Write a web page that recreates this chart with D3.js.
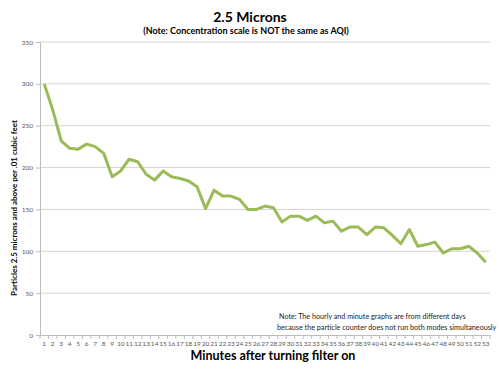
<!DOCTYPE html>
<html>
<head>
<meta charset="utf-8">
<script src="https://cdn.jsdelivr.net/npm/d3@7"></script>
<style>
  body { margin: 0; background: #fff; }
  text { font-family: Lato, "Open Sans", sans-serif; }
</style>
</head>
<body>
<div id="chart"></div>
<script>
// minutes after turning the filter on
let minutes = d3.range(1, 54).map(String);

// particles 2.5 microns and above per .01 cubic feet
let particles = [
    300, 269, 232, 223, 222, 228, 225, 217, 189, 196,
    210, 207, 192, 185, 196, 189, 187, 184, 177, 151,
    173, 166, 166, 162, 150, 150, 154, 152, 135, 142,
    142, 137, 142, 134, 136, 124, 129, 129, 120, 129,
    128, 119, 109, 126, 106, 108, 111, 98, 103, 103,
    106, 98, 87
];

let yTicks = [0, 50, 100, 150, 200, 250, 300, 350];

let noteLines = [
    "Note: The hourly and minute graphs are from different days",
    "because the particle counter does not run both modes simultaneously"
];

let margin = {top: 42, right: 10, bottom: 40, left: 40},
    width = 500 - margin.left - margin.right,
    height = 335 - margin.top;

let svg = d3.select("#chart")
    .append("svg")
        .attr("width", 500)
        .attr("height", 375);

let g = svg.append("g")
    .attr("transform", `translate(${margin.left},${margin.top})`);

let x = d3.scaleBand()
    .domain(minutes)
    .range([0, width]);

let y = d3.scaleLinear()
    .domain([0, 350])
    .range([height, 0]);

// gridlines
g.selectAll(".grid")
    .data(yTicks.filter(d => d > 0))
    .join("line")
    .attr("x1", 0)
    .attr("x2", width)
    .attr("y1", d => y(d))
    .attr("y2", d => y(d))
    .attr("stroke", "#d4d4d4")
    .attr("stroke-width", 1);

// y axis
let yAxis = g.append("g")
    .call(d3.axisLeft(y).tickValues(yTicks).tickSize(4).tickPadding(3));
yAxis.select(".domain").attr("stroke", "#bdbdbd");
yAxis.selectAll(".tick line").attr("stroke", "#bdbdbd");
yAxis.selectAll("text")
    .attr("fill", "#595959")
    .style("font-size", "6.5px");

// x axis
let xAxis = g.append("g")
    .attr("transform", `translate(0,${height})`)
    .call(d3.axisBottom(x).tickSize(0).tickPadding(6));
xAxis.select(".domain").attr("stroke", "#bdbdbd");
xAxis.selectAll("text")
    .attr("fill", "#595959")
    .style("font-size", "6.5px");

// tick marks between categories
g.append("g")
    .selectAll("line")
    .data(minutes.concat([null]))
    .join("line")
    .attr("x1", d => d === null ? width : x(d))
    .attr("x2", d => d === null ? width : x(d))
    .attr("y1", height)
    .attr("y2", height + 4)
    .attr("stroke", "#bdbdbd");

// the line
let line = d3.line()
    .x((d, i) => x(minutes[i]) + x.bandwidth() / 2)
    .y(d => y(d));

g.append("path")
    .datum(particles)
    .attr("fill", "none")
    .attr("stroke", "#9bbb59")
    .attr("stroke-width", 3)
    .attr("stroke-linejoin", "round")
    .attr("d", line);

// titles
svg.append("text")
    .attr("x", 250)
    .attr("y", 22)
    .attr("text-anchor", "middle")
    .style("font-size", "14px")
    .style("font-weight", "bold")
    .text("2.5 Microns");

svg.append("text")
    .attr("x", 246)
    .attr("y", 34)
    .attr("text-anchor", "middle")
    .style("font-size", "9px")
    .style("font-weight", "bold")
    .text("(Note: Concentration scale is NOT the same as AQI)");

svg.append("text")
    .attr("transform", "translate(17,208) rotate(-90)")
    .attr("text-anchor", "middle")
    .style("font-size", "8px")
    .style("font-weight", "bold")
    .text("Particles 2.5 microns and above per .01 cubic feet");

svg.append("text")
    .attr("x", 273)
    .attr("y", 360)
    .attr("text-anchor", "middle")
    .style("font-size", "12.5px")
    .style("font-weight", "bold")
    .text("Minutes after turning filter on");

// note
svg.append("g")
    .selectAll("text")
    .data(noteLines)
    .join("text")
    .attr("x", (d, i) => i === 0 ? 279 : 277)
    .attr("y", (d, i) => 319 + i * 11)
    .style("font-size", "7.2px")
    .attr("fill", "#222")
    .text(d => d);
</script>
</body>
</html>
